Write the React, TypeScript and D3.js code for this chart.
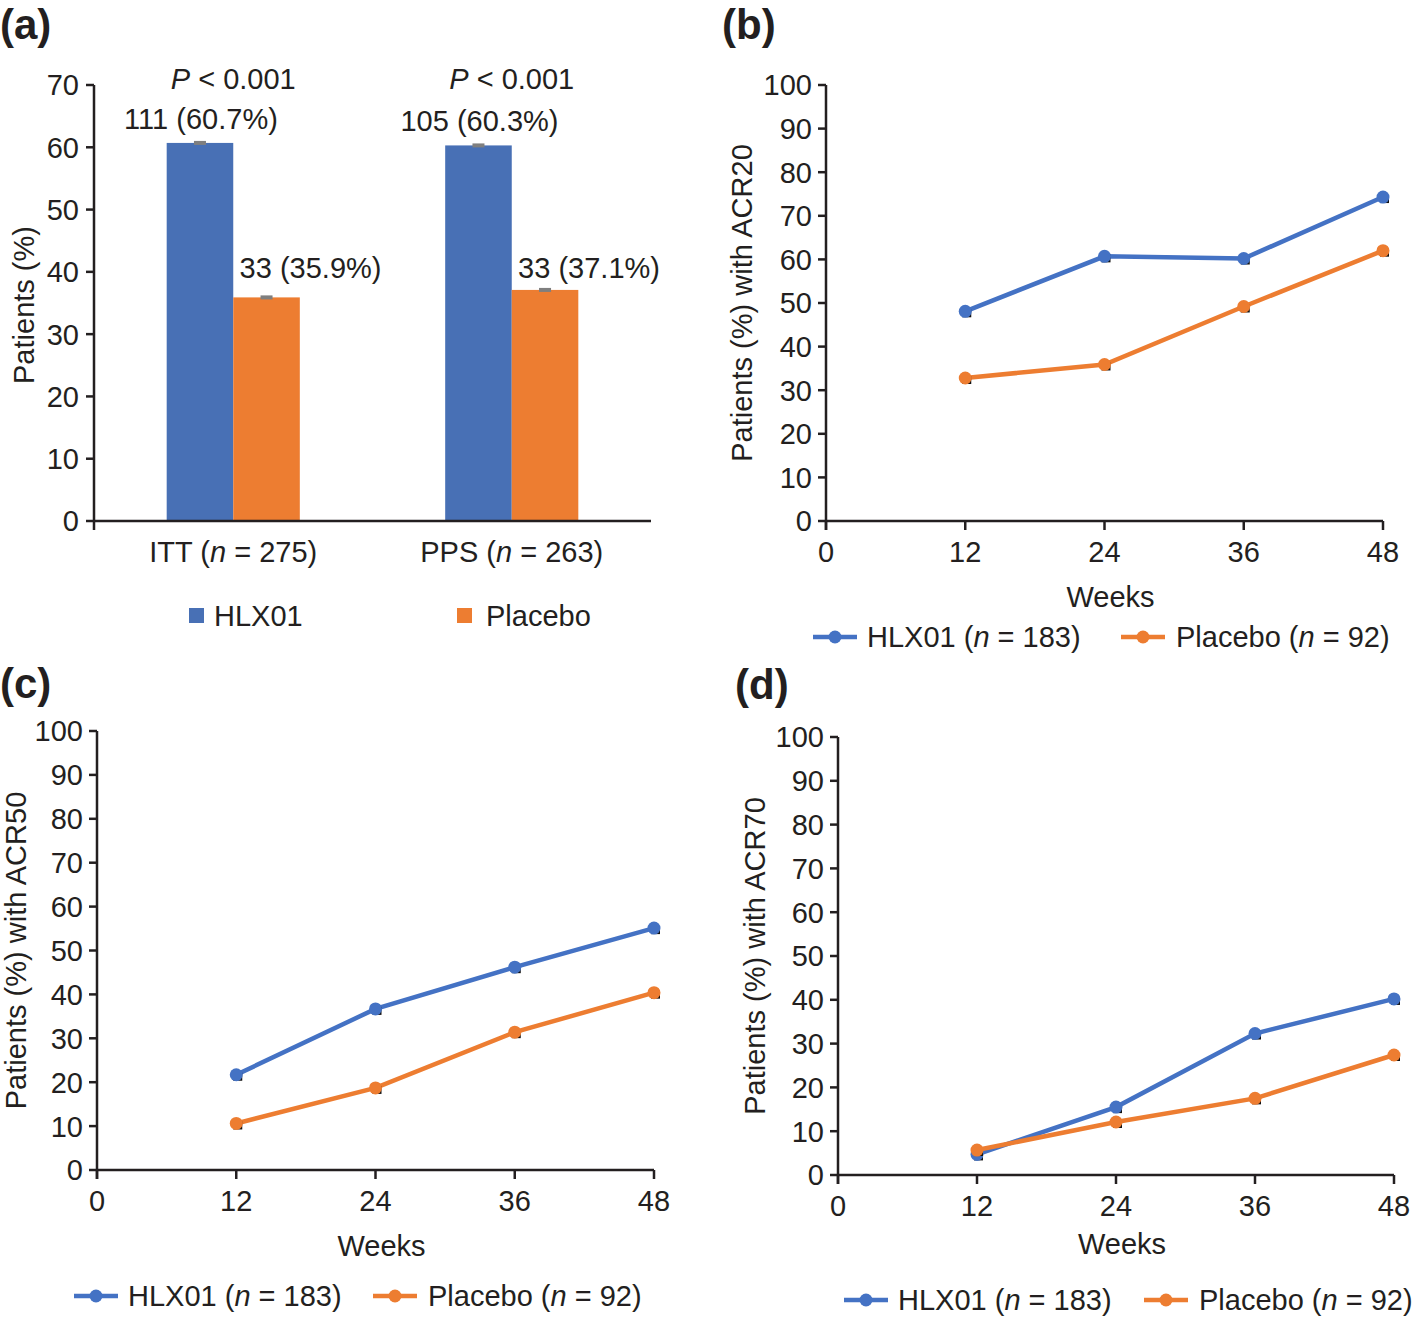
import React from 'react';
import * as d3 from 'd3';

// ---------- data ----------
const groups = ['ITT', 'PPS'];
const groupN = [275, 263];
const barHlx = [60.7, 60.3];
const barPbo = [35.9, 37.1];
const barHlxCount = [111, 105];
const barPboCount = [33, 33];
const pValues = ['0.001', '0.001'];

const weeks = [12, 24, 36, 48];
const xTicks = [0, 12, 24, 36, 48];
const acr20Hlx = [48.1, 60.7, 60.2, 74.3];
const acr20Pbo = [32.8, 35.9, 49.2, 62.0];
const acr50Hlx = [21.7, 36.7, 46.2, 55.1];
const acr50Pbo = [10.6, 18.7, 31.4, 40.4];
const acr70Hlx = [4.7, 15.5, 32.3, 40.2];
const acr70Pbo = [5.7, 12.1, 17.5, 27.4];

const hlxN = 183;
const pboN = 92;

// ---------- style ----------
const FONT = '"Liberation Sans", Arial, Helvetica, sans-serif';
const FS = 29;
const TAG_FS = 42;
const BLUE_BAR = '#4870B5';
const ORANGE_BAR = '#ED7D31';
const BLUE = '#4472C4';
const ORANGE = '#ED7D31';
const AXIS = '#231F20';

function BarPanel() {
  const xL = 94, xR = 651, yB = 521, yT = 85;
  const y = d3.scaleLinear().domain([0, 70]).range([yB, yT]);
  const x = d3.scaleBand().domain(groups).range([xL, xR]).paddingInner(0.522).paddingOuter(0.261);
  const inner = d3.scaleBand().domain(['HLX01', 'Placebo']).range([0, x.bandwidth()]);
  const ticks = d3.range(0, 71, 10);
  return (
    <g fontFamily={FONT} fill="#231F20">
      <text x={0} y={39} fontSize={TAG_FS} fontWeight="bold">(a)</text>
      {groups.map((g, i) => {
        const bx = x(g)!;
        const hx = bx + inner('HLX01')!;
        const px = bx + inner('Placebo')!;
        const w = inner.bandwidth();
        return (
          <g key={g}>
            <rect x={hx} y={y(barHlx[i])} width={w} height={yB - y(barHlx[i])} fill={BLUE_BAR} />
            <rect x={px} y={y(barPbo[i])} width={w} height={yB - y(barPbo[i])} fill={ORANGE_BAR} />
            <rect x={hx + w / 2 - 6} y={y(barHlx[i]) - 2} width={12} height={4} fill="#7F7F7F" />
            <rect x={px + w / 2 - 6} y={y(barPbo[i]) - 2} width={12} height={4} fill="#7F7F7F" />
            <text x={bx + x.bandwidth() / 2} y={89} fontSize={FS} textAnchor="middle">
              <tspan fontStyle="italic">P</tspan> &lt; {pValues[i]}
            </text>
            <text x={hx + w / 2 + 1} y={y(barHlx[i]) - 14} fontSize={FS} textAnchor="middle">
              {barHlxCount[i]} ({barHlx[i].toFixed(1)}%)
            </text>
            <text x={px + w / 2 + 44} y={278} fontSize={FS} textAnchor="middle">
              {barPboCount[i]} ({barPbo[i].toFixed(1)}%)
            </text>
            <text x={bx + x.bandwidth() / 2} y={562} fontSize={FS} textAnchor="middle">
              {g} (<tspan fontStyle="italic">n</tspan> = {groupN[i]})
            </text>
          </g>
        );
      })}
      <line x1={xL} x2={xR} y1={yB} y2={yB} stroke={AXIS} strokeWidth={2.5} />
      <line x1={xL} x2={xL} y1={yT} y2={yB + 9} stroke={AXIS} strokeWidth={2.5} />
      {ticks.map(t => (
        <g key={t}>
          <line x1={xL - 8} x2={xL} y1={y(t)} y2={y(t)} stroke={AXIS} strokeWidth={2.5} />
          <text x={xL - 15} y={y(t)} dy="0.36em" fontSize={FS} textAnchor="end">{t}</text>
        </g>
      ))}
      <text transform={`translate(24,${(yB + yT) / 2 + 2}) rotate(-90)`} fontSize={FS} textAnchor="middle" dy="0.36em">Patients (%)</text>
      <rect x={189} y={608} width={15} height={15} fill={BLUE_BAR} />
      <text x={214} y={626} fontSize={FS}>HLX01</text>
      <rect x={457} y={608} width={15} height={15} fill={ORANGE_BAR} />
      <text x={486} y={626} fontSize={FS}>Placebo</text>
    </g>
  );
}

type LineProps = {
  tag: string;
  tagX: number; tagY: number;
  xL: number; xR: number; yB: number; yT: number;
  yLabel: string; yLabelX: number;
  hlx: number[]; pbo: number[];
  weeksY: number;
  legY: number; legBlueX: number; legOrangeX: number;
};

function Marker({ cx, cy, color }: { cx: number; cy: number; color: string }) {
  return (
    <g>
      <rect x={cx - 3} y={cy - 2} width={9} height={8} fill="#111" />
      <circle cx={cx} cy={cy} r={6.5} fill={color} />
    </g>
  );
}

function LinePanel(p: LineProps) {
  const x = d3.scaleLinear().domain([0, 48]).range([p.xL, p.xR]);
  const y = d3.scaleLinear().domain([0, 100]).range([p.yB, p.yT]);
  const yTicks = d3.range(0, 101, 10);
  const line = d3.line<number>().x((_, i) => x(weeks[i])).y(d => y(d));
  const series = [
    { vals: p.hlx, color: BLUE },
    { vals: p.pbo, color: ORANGE },
  ];
  return (
    <g fontFamily={FONT} fill="#231F20">
      <text x={p.tagX} y={p.tagY} fontSize={TAG_FS} fontWeight="bold">{p.tag}</text>
      <line x1={p.xL} x2={p.xR} y1={p.yB} y2={p.yB} stroke={AXIS} strokeWidth={2.5} />
      <line x1={p.xL} x2={p.xL} y1={p.yT} y2={p.yB + 9} stroke={AXIS} strokeWidth={2.5} />
      {yTicks.map(t => (
        <g key={t}>
          <line x1={p.xL - 8} x2={p.xL} y1={y(t)} y2={y(t)} stroke={AXIS} strokeWidth={2.5} />
          <text x={p.xL - 14} y={y(t)} dy="0.36em" fontSize={FS} textAnchor="end">{t}</text>
        </g>
      ))}
      {xTicks.map(t => (
        <g key={t}>
          <line x1={x(t)} x2={x(t)} y1={p.yB} y2={p.yB + 9} stroke={AXIS} strokeWidth={2.5} />
          <text x={x(t)} y={p.yB + 41} fontSize={FS} textAnchor="middle">{t}</text>
        </g>
      ))}
      <text x={(p.xL + p.xR) / 2 + 6} y={p.weeksY} fontSize={FS} textAnchor="middle">Weeks</text>
      <text transform={`translate(${p.yLabelX},${(p.yB + p.yT) / 2}) rotate(-90)`} fontSize={FS} textAnchor="middle" dy="0.36em">{p.yLabel}</text>
      {series.map((s, k) => (
        <g key={k}>
          <path d={line(s.vals) || ''} fill="none" stroke={s.color} strokeWidth={4.5} />
          {s.vals.map((v, i) => (
            <Marker key={i} cx={x(weeks[i])} cy={y(v)} color={s.color} />
          ))}
        </g>
      ))}
      <line x1={p.legBlueX} x2={p.legBlueX + 44} y1={p.legY} y2={p.legY} stroke={BLUE} strokeWidth={4.5} />
      <circle cx={p.legBlueX + 22} cy={p.legY} r={6.5} fill={BLUE} />
      <text x={p.legBlueX + 54} y={p.legY + 10} fontSize={FS}>
        HLX01 (<tspan fontStyle="italic">n</tspan> = {hlxN})
      </text>
      <line x1={p.legOrangeX} x2={p.legOrangeX + 44} y1={p.legY} y2={p.legY} stroke={ORANGE} strokeWidth={4.5} />
      <circle cx={p.legOrangeX + 22} cy={p.legY} r={6.5} fill={ORANGE} />
      <text x={p.legOrangeX + 55} y={p.legY + 10} fontSize={FS}>
        Placebo (<tspan fontStyle="italic">n</tspan> = {pboN})
      </text>
    </g>
  );
}

export default function App() {
  return (
    <svg width={1416} height={1318} style={{ position: 'absolute', left: 0, top: 0, background: '#fff' }}>
      <rect width={1416} height={1318} fill="#fff" />
      <BarPanel />
      <LinePanel tag="(b)" tagX={722} tagY={39} xL={826} xR={1383} yB={521} yT={85}
        yLabel="Patients (%) with ACR20" yLabelX={742} hlx={acr20Hlx} pbo={acr20Pbo}
        weeksY={607} legY={637} legBlueX={813} legOrangeX={1121} />
      <LinePanel tag="(c)" tagX={0} tagY={698} xL={97} xR={654} yB={1170} yT={731}
        yLabel="Patients (%) with ACR50" yLabelX={16} hlx={acr50Hlx} pbo={acr50Pbo}
        weeksY={1256} legY={1296} legBlueX={74} legOrangeX={373} />
      <LinePanel tag="(d)" tagX={735} tagY={699} xL={838} xR={1394} yB={1175} yT={737}
        yLabel="Patients (%) with ACR70" yLabelX={755} hlx={acr70Hlx} pbo={acr70Pbo}
        weeksY={1254} legY={1300} legBlueX={844} legOrangeX={1144} />
    </svg>
  );
}
